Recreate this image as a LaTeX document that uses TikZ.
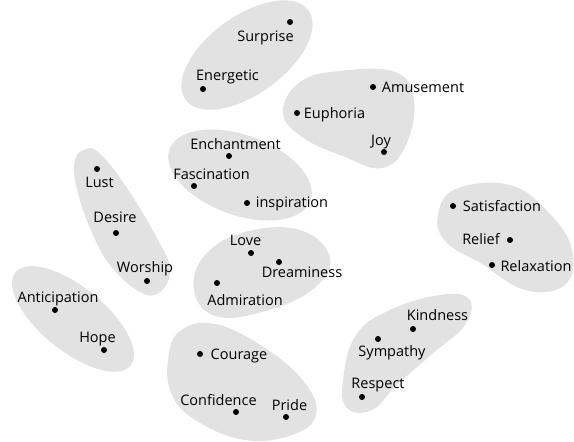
\documentclass[tikz,border=0pt]{standalone}
\usepackage{fontspec}
\setmainfont{Open Sans}
\begin{document}
\begin{tikzpicture}[x=1pt,y=-1pt,
  blob/.style={fill={rgb,255:red,226;green,226;blue,226},draw=none},
  dot/.style={circle,fill=black,inner sep=0pt,minimum size=6pt},
  lbl/.style={inner sep=0pt,yshift=-2pt,font=\fontsize{14.5}{16}\selectfont,text height=10.5pt,text depth=3pt}]
\useasboundingbox (0,0) rectangle (574,442);

% groups of related feelings
\fill[blob,shift={(247,55)},rotate=36] (0,0) ellipse [x radius=76pt,y radius=39pt];
\fill[blob] plot[smooth cycle,tension=0.7] coordinates {(283,112)(300,82)(340,71)(395,72)(414,100)(406,145)(382,168)(345,157)(302,137)};
\fill[blob,shift={(240,175)},rotate=-20] (0,0) ellipse [x radius=75pt,y radius=40pt];
\fill[blob] plot[smooth cycle,tension=0.7] coordinates {(84,150)(98,152)(125,185)(158,240)(170,270)(160,292)(140,292)(110,265)(90,228)(76,185)(75,160)};
\fill[blob] plot[smooth cycle,tension=0.7] coordinates {(194,290)(205,255)(245,232)(300,230)(330,258)(312,290)(262,312)(215,316)};
\fill[blob,shift={(73,319)},rotate=-39] (0,0) ellipse [x radius=74pt,y radius=32pt];
\fill[blob] plot[smooth cycle,tension=0.7] coordinates {(168,360)(180,331)(215,324)(265,348)(305,383)(316,415)(292,435)(245,440)(197,421)(172,395)};
\fill[blob] plot[smooth cycle,tension=0.7] coordinates {(343,380)(356,335)(390,310)(440,295)(469,299)(465,325)(432,354)(397,385)(372,410)(347,408)};
\fill[blob] plot[smooth cycle,tension=0.7] coordinates {(438,215)(456,189)(510,185)(550,214)(572,250)(565,285)(525,290)(482,264)(446,242)};

% points
\node[dot] (surprise) at (290,22) {};
\node[dot] (energetic) at (203,89) {};
\node[dot] (amusement) at (373,87) {};
\node[dot] (euphoria) at (297,113) {};
\node[dot] (joy) at (384,152) {};
\node[dot] (enchantment) at (229,156) {};
\node[dot] (fascination) at (194,186) {};
\node[dot] (inspiration) at (247,203) {};
\node[dot] (lust) at (97,169) {};
\node[dot] (desire) at (116,233) {};
\node[dot] (worship) at (147,281) {};
\node[dot] (satisfaction) at (453,206) {};
\node[dot] (relief) at (510,240) {};
\node[dot] (relaxation) at (492,265) {};
\node[dot] (love) at (251,253) {};
\node[dot] (dreaminess) at (279,262) {};
\node[dot] (admiration) at (217,283) {};
\node[dot] (anticipation) at (55,310) {};
\node[dot] (hope) at (104,350) {};
\node[dot] (kindness) at (413,329) {};
\node[dot] (sympathy) at (378,339) {};
\node[dot] (respect) at (362,397) {};
\node[dot] (courage) at (200,354) {};
\node[dot] (confidence) at (236,412) {};
\node[dot] (pride) at (286,417) {};

% labels
\node[lbl] (lsurprise) at (265.5,36) {Surprise};
\node[lbl] (lenergetic) at (227.5,75) {Energetic};
\node[lbl] (lamusement) at (423,87) {Amusement};
\node[lbl] (leuphoria) at (334.5,113) {Euphoria};
\node[lbl] (ljoy) at (381,140) {Joy};
\node[lbl] (lenchantment) at (235.5,144) {Enchantment};
\node[lbl] (lfascination) at (211.5,174) {Fascination};
\node[lbl] (linspiration) at (292,202) {inspiration};
\node[lbl] (llust) at (99.5,182) {Lust};
\node[lbl] (ldesire) at (115,217) {Desire};
\node[lbl] (lworship) at (145,267) {Worship};
\node[lbl] (lsatisfaction) at (502,206) {Satisfaction};
\node[lbl] (lrelief) at (481,239) {Relief};
\node[lbl] (lrelaxation) at (536,266) {Relaxation};
\node[lbl] (llove) at (245.5,240) {Love};
\node[lbl] (ldreaminess) at (302,272) {Dreaminess};
\node[lbl] (ladmiration) at (245,300) {Admiration};
\node[lbl] (lanticipation) at (58,297) {Anticipation};
\node[lbl] (lhope) at (97.5,337) {Hope};
\node[lbl] (lkindness) at (437.5,315) {Kindness};
\node[lbl] (lsympathy) at (392,351) {Sympathy};
\node[lbl] (lrespect) at (378,383) {Respect};
\node[lbl] (lcourage) at (239,354) {Courage};
\node[lbl] (lconfidence) at (218.5,400) {Confidence};
\node[lbl] (lpride) at (289.5,405) {Pride};
\end{tikzpicture}
\end{document}
